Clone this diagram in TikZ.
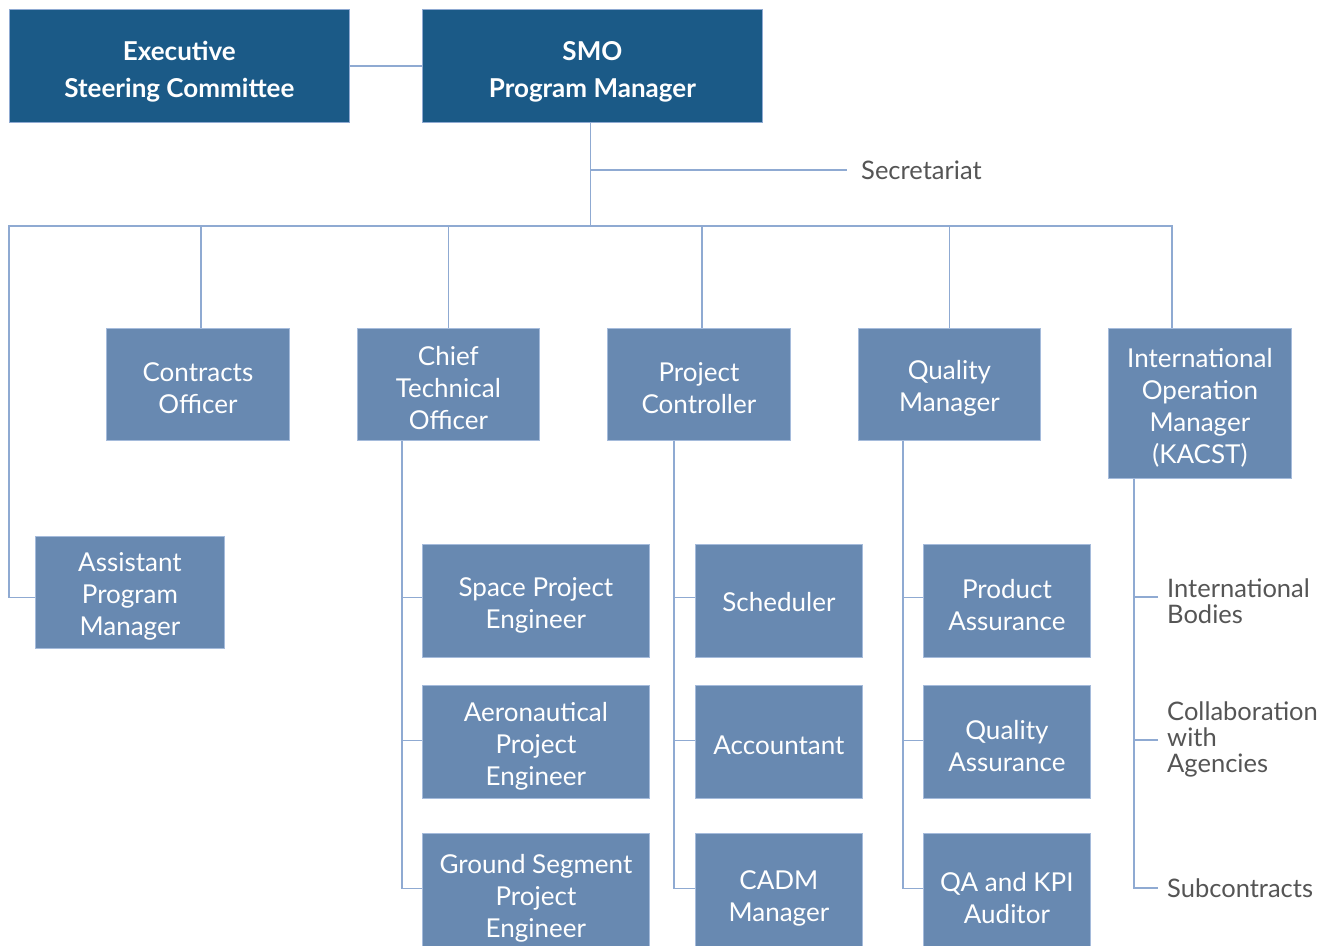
\documentclass[tikz,border=0pt]{standalone}
\usepackage{fontspec}
\setmainfont{Lato}
\definecolor{darkbox}{HTML}{1B5A87}
\definecolor{lightbox}{HTML}{6889B1}
\definecolor{linec}{HTML}{8FAAD2}
\definecolor{lblc}{HTML}{555555}
\begin{document}
\begin{tikzpicture}[x=1pt,y=-1pt,
  topbox/.style={rectangle, fill=darkbox, draw=linec, line width=0.8pt, anchor=north west, inner sep=0pt},
  toptxt/.style={text=white, inner sep=0pt, align=center, font=\fontsize{26}{37}\selectfont\bfseries, yshift=-6pt},
  subbox/.style={rectangle, fill=lightbox, draw=linec!80!white, line width=0.8pt, anchor=north west, inner sep=0pt},
  subtxt/.style={text=white, inner sep=0pt, align=center, font=\fontsize{26}{32}\selectfont, yshift=-4pt},
  sidelbl/.style={text=lblc, anchor=west, inner sep=0pt, align=left, font=\fontsize{25.5}{26}\selectfont},
  conn/.style={draw=linec, line width=1.4pt}]
\clip (0,0) rectangle (1337,945);
\fill[white] (0,0) rectangle (1337,945);
% top row
\node[topbox, minimum width=340, minimum height=113, label={[toptxt]center:{Executive\\Steering Committee}}] (exec) at (9,9) {};
\node[topbox, minimum width=340, minimum height=113, label={[toptxt]center:{SMO\\Program Manager}}] (smo) at (422,9) {};
% second row
\node[subbox, minimum width=183, minimum height=112, label={[subtxt]center:{Contracts\\Officer}}] (co) at (106,328) {};
\node[subbox, minimum width=182, minimum height=112, label={[subtxt]center:{Chief\\Technical\\Officer}}] (cto) at (357,328) {};
\node[subbox, minimum width=183, minimum height=112, label={[subtxt]center:{Project\\Controller}}] (pc) at (607,328) {};
\node[subbox, minimum width=182, minimum height=112, label={[subtxt]center:{Quality\\Manager}}] (qm) at (858,328) {};
\node[subbox, minimum width=183, minimum height=150, label={[subtxt]center:{International\\Operation\\Manager\\(KACST)}}] (iom) at (1108,328) {};
\node[subbox, minimum width=189, minimum height=112, label={[subtxt]center:{Assistant\\Program\\Manager}}] (apm) at (35,536) {};
% CTO column
\node[subbox, minimum width=227, minimum height=113, label={[subtxt]center:{Space Project\\Engineer}}] (spe) at (422,544) {};
\node[subbox, minimum width=227, minimum height=113, label={[subtxt]center:{Aeronautical\\Project\\Engineer}}] (ape) at (422,685) {};
\node[subbox, minimum width=227, minimum height=122, label={[subtxt]center:{Ground Segment\\Project\\Engineer}}] (gpe) at (422,833) {};
% PC column
\node[subbox, minimum width=167, minimum height=113, label={[subtxt, yshift=3pt]center:{Scheduler}}] (sch) at (695,544) {};
\node[subbox, minimum width=167, minimum height=113, label={[subtxt, yshift=1pt]center:{Accountant}}] (acc) at (695,685) {};
\node[subbox, minimum width=167, minimum height=122, label={[subtxt]center:{CADM\\Manager}}] (cadm) at (695,833) {};
% QM column
\node[subbox, minimum width=167, minimum height=113, label={[subtxt]center:{Product\\Assurance}}] (pa) at (923,544) {};
\node[subbox, minimum width=167, minimum height=113, label={[subtxt]center:{Quality\\Assurance}}] (qa) at (923,685) {};
\node[subbox, minimum width=167, minimum height=122, label={[subtxt]center:{QA and KPI\\Auditor}}] (kpi) at (923,833) {};
% labels
\node[sidelbl] (sec) at (861,170) {Secretariat};
\node[sidelbl] (ib) at (1167,601) {International\\Bodies};
\node[sidelbl] (cwa) at (1167,739) {Collaboration\\with\\Agencies};
\node[sidelbl] (sub) at (1167,888) {Subcontracts};
% bus coordinates
\coordinate (busL) at (9,226);
\coordinate (busR) at (1172,226);
% connectors
\draw[conn] (exec.east) -- (smo.west);
\draw[conn] ([xshift=-2pt]smo.south) -- ([xshift=-2pt]smo.south |- busL);
\draw[conn] ([xshift=-2pt]smo.south |- sec.west) -- ([xshift=-14pt]sec.west);
\draw[conn] ([yshift=-5pt]apm.west) -| (busL) -- (busR) -- (busR |- iom.north);
\draw[conn] ([xshift=3pt]co.north |- busL) -- ([xshift=3pt]co.north);
\draw[conn] (cto.north |- busL) -- (cto.north);
\draw[conn] ([xshift=3pt]pc.north |- busL) -- ([xshift=3pt]pc.north);
\draw[conn] (qm.north |- busL) -- (qm.north);
% CTO branch
\draw[conn] ([xshift=45pt]cto.south west) |- ([yshift=6pt]gpe.west);
\draw[conn] ([yshift=3.5pt]spe.west) -- ++(-20,0);
\draw[conn] ([yshift=1.5pt]ape.west) -- ++(-20,0);
% PC branch
\draw[conn] ([xshift=67pt]pc.south west) |- ([yshift=6pt]cadm.west);
\draw[conn] ([yshift=3.5pt]sch.west) -- ++(-21,0);
\draw[conn] ([yshift=1.5pt]acc.west) -- ++(-21,0);
% QM branch
\draw[conn] ([xshift=45pt]qm.south west) |- ([yshift=6pt]kpi.west);
\draw[conn] ([yshift=3.5pt]pa.west) -- ++(-20,0);
\draw[conn] ([yshift=1.5pt]qa.west) -- ++(-20,0);
% IOM branch
\draw[conn] ([xshift=26pt]iom.south west) |- ([xshift=-9pt]sub.west);
\draw[conn] ([xshift=-9pt,yshift=4pt]ib.west) -- ++(-24,0);
\draw[conn] ([xshift=-9pt,yshift=-1pt]cwa.west) -- ++(-24,0);
\end{tikzpicture}
\end{document}
